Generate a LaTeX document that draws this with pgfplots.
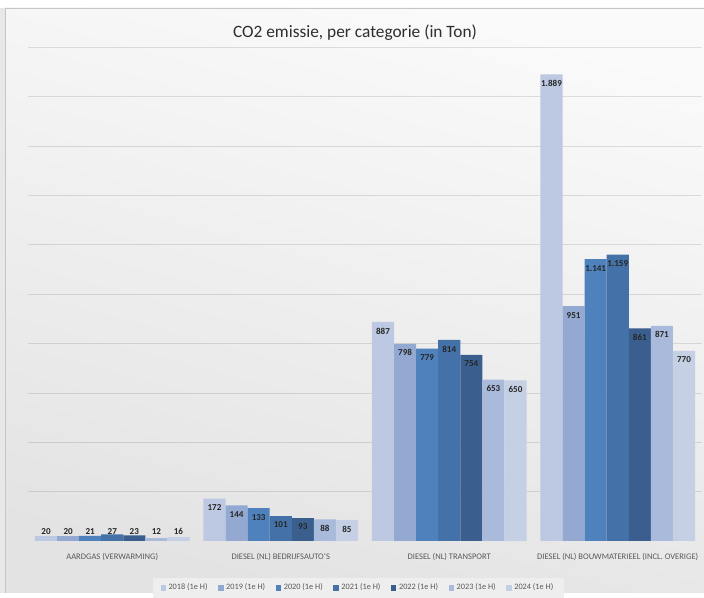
\documentclass[border=0pt]{standalone}
\usepackage{pgfplots}
\pgfplotsset{compat=1.18}
\usepackage{fontspec}
\setmainfont{Carlito}
\definecolor{c2018}{HTML}{BDC9E2}
\definecolor{c2019}{HTML}{94A9D1}
\definecolor{c2020}{HTML}{4F81BD}
\definecolor{c2021}{HTML}{4472A8}
\definecolor{c2022}{HTML}{3A5F8E}
\definecolor{c2023}{HTML}{A9BADB}
\definecolor{c2024}{HTML}{C5D0E4}
\definecolor{labgray}{HTML}{595959}
\begin{document}
\begin{tikzpicture}
% background, 1px = 0.75pt
\begin{scope}[x=0.75pt,y=0.75pt]
  \path[use as bounding box] (0,0) rectangle (704,593);
  \clip (0,0) rectangle (704,593);
  \fill[white] (0,0) rectangle (704,593);
  \fill[gray!18] (0,0) rectangle (5,585);
  \shade[shading=axis, top color=gray!4, bottom color=gray!22, shading angle=-15] (5,0) rectangle (704,585);
  \draw[gray!45] (5,0) -- (5,585) -- (704,585);
  \node[font=\fontsize{13}{15}\selectfont, text=black!82] at (355,560) {CO2 emissie, per categorie (in Ton)};
\end{scope}
\begin{axis}[
  at={(21pt,39pt)}, anchor=south west,
  width=505.5pt, height=370.5pt, scale only axis,
  xmin=-0.5, xmax=3.5, ymin=0, ymax=2000,
  ybar=0pt, bar width=0.131,
  xtick={0,1,2,3},
  xticklabels={AARDGAS (VERWARMING), DIESEL (NL) BEDRIJFSAUTO'S, DIESEL (NL) TRANSPORT, DIESEL (NL) BOUWMATERIEEL (INCL. OVERIGE)},
  x tick label style={font=\fontsize{6.4}{7}\selectfont, text=labgray, yshift=-1.5pt},
  ytick={200,400,...,2000}, yticklabels={},
  ymajorgrids, grid style={black, draw opacity=0.11},
  axis line style={draw=none}, major tick style={draw=none},
  nodes near coords={\pgfmathprintnumber[1000 sep={.}, assume math mode=true]{\pgfplotspointmeta}},
  visualization depends on={y \as \rawy},
  every node near coord/.append style={font=\fontsize{6.8}{8}\selectfont\bfseries, text=black!85, anchor=center, inner sep=0pt, yshift={max(-6.75,6.8-0.18525*\rawy)}},
  legend style={at={(0.49,-0.095)}, anchor=center, legend columns=7, draw=none, fill=gray!13, font=\fontsize{6.2}{7}\selectfont, text=labgray, inner xsep=6pt, inner ysep=2.5pt, /tikz/every even column/.append style={column sep=6pt}},
  legend image code/.code={\fill[#1] (0pt,-2pt) rectangle (4pt,2pt);},
]
\addplot[fill=c2018, draw=none] coordinates {(0,20) (1,172) (2,887) (3,1889)};
\addplot[fill=c2019, draw=none] coordinates {(0,20) (1,144) (2,798) (3,951)};
\addplot[fill=c2020, draw=none] coordinates {(0,21) (1,133) (2,779) (3,1141)};
\addplot[fill=c2021, draw=none] coordinates {(0,27) (1,101) (2,814) (3,1159)};
\addplot[fill=c2022, draw=none] coordinates {(0,23) (1,93) (2,754) (3,861)};
\addplot[fill=c2023, draw=none] coordinates {(0,12) (1,88) (2,653) (3,871)};
\addplot[fill=c2024, draw=none] coordinates {(0,16) (1,85) (2,650) (3,770)};
\legend{2018 (1e H), 2019 (1e H), 2020 (1e H), 2021 (1e H), 2022 (1e H), 2023 (1e H), 2024 (1e H)}
\draw[black!60, line width=0.6pt] (rel axis cs:0,0) -- (rel axis cs:1,0);
\end{axis}
\end{tikzpicture}
\end{document}
